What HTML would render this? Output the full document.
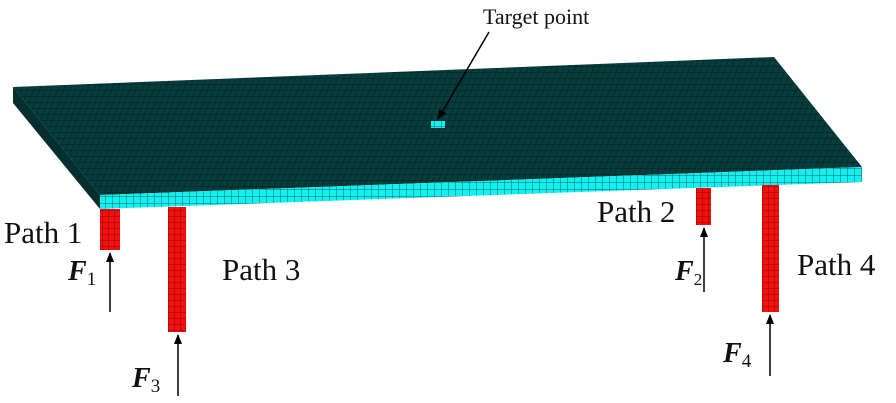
<!DOCTYPE html>
<html><head><style>
html,body{margin:0;padding:0;background:#fff;}
svg{display:block;}
</style></head><body>
<svg width="896" height="403" viewBox="0 0 896 403" xmlns="http://www.w3.org/2000/svg" font-family="'Liberation Serif', 'Times New Roman', serif">
<defs>
<pattern id="g1" width="6" height="6" patternUnits="userSpaceOnUse" patternTransform="skewX(-20)">
<rect width="6" height="6" fill="#073d3d"/><path d="M0 0H6M0 0V6" stroke="#021f1f" stroke-width="1"/>
</pattern>
<pattern id="cy" width="7" height="7" patternUnits="userSpaceOnUse">
<rect width="7" height="7" fill="#14f0f0"/><path d="M0 0H7M0 0V7" stroke="#0a6a6a" stroke-width="1"/>
</pattern>
<pattern id="rd" width="6" height="6" patternUnits="userSpaceOnUse">
<rect width="6" height="6" fill="#f01010"/><path d="M0 0H6M0 0V6" stroke="#7a0000" stroke-width="0.8"/>
</pattern>
<marker id="ah" markerWidth="10" markerHeight="10" refX="9" refY="5" orient="auto" markerUnits="userSpaceOnUse">
<path d="M0 1L10 5L0 9Z" fill="#000"/>
</marker>
</defs>
<polygon points="13,87 774,57 862,167 100,195" fill="url(#g1)"/>
<polygon points="13,87 13,103 100,209 100,195" fill="#052e2e"/>
<polygon points="100,195 862,167 862,182 100,209" fill="url(#cy)"/>
<rect x="431" y="121" width="14" height="7" fill="url(#cy)"/>
<rect x="100" y="209" width="20" height="41" fill="url(#rd)"/>
<rect x="168" y="207" width="18" height="125" fill="url(#rd)"/>
<rect x="696" y="188" width="15" height="37" fill="url(#rd)"/>
<rect x="762" y="185" width="17" height="127" fill="url(#rd)"/>
<g stroke="#000" stroke-width="1.5">
<line x1="110" y1="312" x2="110" y2="253" marker-end="url(#ah)"/>
<line x1="178" y1="396" x2="178" y2="335" marker-end="url(#ah)"/>
<line x1="704" y1="292" x2="704" y2="228" marker-end="url(#ah)"/>
<line x1="770" y1="376" x2="770" y2="315" marker-end="url(#ah)"/>
<line x1="489" y1="32" x2="438" y2="119" marker-end="url(#ah)"/>
</g>
<g fill="#111" font-family="'Liberation Serif', 'Times New Roman', serif">
<text x="483" y="24" font-size="22">Target point</text>
<text x="4" y="243" font-size="31">Path 1</text>
<text x="222" y="280" font-size="31">Path 3</text>
<text x="597" y="222" font-size="31">Path 2</text>
<text x="797" y="275" font-size="31">Path 4</text>
<text x="68" y="280" font-size="28" font-weight="bold" font-style="italic">F<tspan font-size="19" font-weight="normal" font-style="normal" dy="5">1</tspan></text>
<text x="132" y="387" font-size="28" font-weight="bold" font-style="italic">F<tspan font-size="19" font-weight="normal" font-style="normal" dy="5">3</tspan></text>
<text x="675" y="280" font-size="28" font-weight="bold" font-style="italic">F<tspan font-size="17" font-weight="normal" font-style="normal" dy="5">2</tspan></text>
<text x="723" y="362" font-size="28" font-weight="bold" font-style="italic">F<tspan font-size="19" font-weight="normal" font-style="normal" dy="5">4</tspan></text>
</g>
</svg>
</body></html>
